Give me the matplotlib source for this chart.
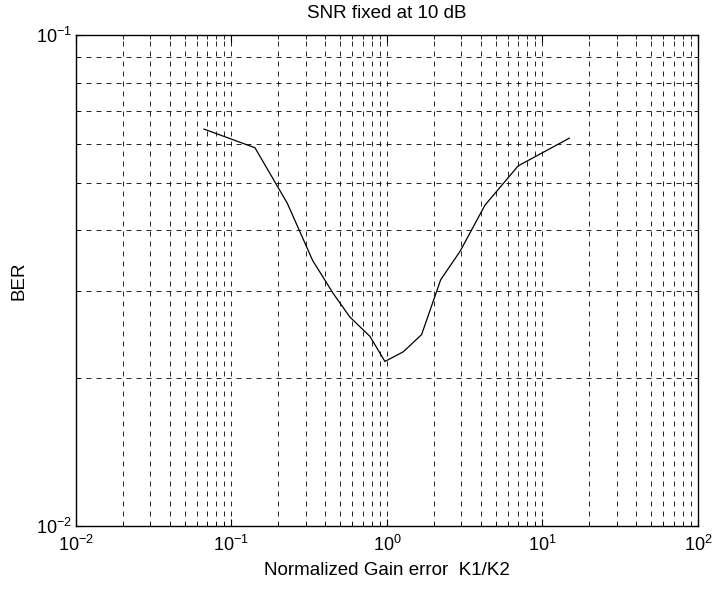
import matplotlib.pyplot as plt
from matplotlib.ticker import FixedLocator, FixedFormatter, LogLocator, NullFormatter
import numpy as np

plt.rcParams['font.family'] = ['Liberation Sans', 'DejaVu Sans']
plt.rcParams['mathtext.fontset'] = 'custom'
plt.rcParams['mathtext.rm'] = 'Liberation Sans'
plt.rcParams['mathtext.it'] = 'Liberation Sans'

# gain error K1/K2 and measured BER at SNR = 10 dB
gain_ratio = [0.0665, 0.1416, 0.2285, 0.3326, 0.4516, 0.578, 0.777, 0.97,
              1.273, 1.67, 2.215, 2.948, 4.27, 6.98, 14.87]
ber = [0.0643, 0.0589, 0.0454, 0.0347, 0.0297, 0.0266, 0.0243, 0.0216,
       0.0226, 0.0245, 0.0317, 0.0362, 0.045, 0.0541, 0.0616]

x_ticks = [1e-2, 1e-1, 1e0, 1e1, 1e2]
x_tick_labels = ['$10^{-2}$', '$10^{-1}$', '$10^{0}$', '$10^{1}$', '$10^{2}$']
y_ticks = [1e-2, 1e-1]
y_tick_labels = ['$10^{-2}$', '$10^{-1}$']

fig = plt.figure(figsize=(7.12, 5.90), dpi=100)
ax = fig.add_axes([0.1067, 0.1093, 0.8736, 0.8314])

ax.loglog(gain_ratio, ber, color='black', lw=0.9)

ax.set_xlim(1e-2, 1e2)
ax.set_ylim(1e-2, 1e-1)

ax.xaxis.set_major_locator(FixedLocator(x_ticks))
ax.xaxis.set_major_formatter(FixedFormatter(x_tick_labels))
ax.yaxis.set_major_locator(FixedLocator(y_ticks))
ax.yaxis.set_major_formatter(FixedFormatter(y_tick_labels))
ax.xaxis.set_minor_locator(LogLocator(base=10, subs=np.arange(2, 10)))
ax.yaxis.set_minor_locator(LogLocator(base=10, subs=np.arange(2, 10)))
ax.xaxis.set_minor_formatter(NullFormatter())
ax.yaxis.set_minor_formatter(NullFormatter())

ax.grid(True, which='both', color='black', lw=0.6, linestyle=(0, (6, 6)))
ax.tick_params(which='both', direction='in', top=True, right=True,
               labelsize=13, color='black')
ax.tick_params(which='major', length=5, width=0.8)
ax.tick_params(which='minor', length=3, width=0.6)
ax.tick_params(axis='x', pad=7)
ax.tick_params(axis='y', pad=3)
for sp in ax.spines.values():
    sp.set_linewidth(1.0)

ax.set_title('SNR fixed at 10 dB', fontsize=13.5, pad=12)
ax.set_xlabel('Normalized Gain error  K1/K2', fontsize=13.5, labelpad=5)
ax.set_ylabel('BER', fontsize=13.5, labelpad=6)

fig.savefig('out.png', dpi=100)
